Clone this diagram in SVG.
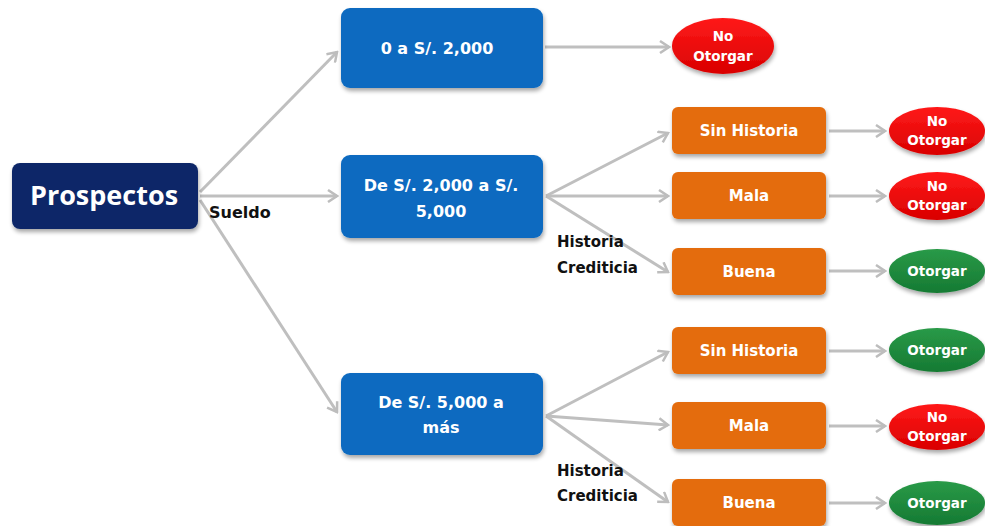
<svg xmlns="http://www.w3.org/2000/svg" width="985" height="526" viewBox="0 0 985 526">
<defs>
<filter id="sh" x="-20%" y="-20%" width="140%" height="150%">
<feGaussianBlur in="SourceAlpha" stdDeviation="2"/>
<feOffset dx="1" dy="3" result="b"/>
<feComponentTransfer><feFuncA type="linear" slope="0.35"/></feComponentTransfer>
<feMerge><feMergeNode/><feMergeNode in="SourceGraphic"/></feMerge>
</filter>
<linearGradient id="gRed" x1="0" y1="0" x2="0" y2="1"><stop offset="0" stop-color="#ff1a1a"/><stop offset="1" stop-color="#d90000"/></linearGradient>
<linearGradient id="gGreen" x1="0" y1="0" x2="0" y2="1"><stop offset="0" stop-color="#2a9a48"/><stop offset="1" stop-color="#157a33"/></linearGradient>
<marker id="ah" markerWidth="12" markerHeight="14" refX="10" refY="7" orient="auto" markerUnits="userSpaceOnUse">
<path d="M1,1 L10,7 L1,13" fill="none" stroke="#bdbdbd" stroke-width="2.5"/>
</marker>
<style>
.nav{fill:#0c2868;}
.blue{fill:#0b6ac0;}
.org{fill:#e46c0a;}
.red{fill:url(#gRed);}
.grn{fill:url(#gGreen);}
.t{font-family:"DejaVu Sans","Noto Sans",sans-serif;font-weight:bold;fill:#ffffff;text-anchor:middle;}
.tp{font-family:"Open Sans","Noto Sans",sans-serif;font-size:27px;}
.tb{font-size:16px;}
.to{font-size:15px;}
.te{font-size:13.5px;}
.lbl{font-family:"DejaVu Sans","Noto Sans",sans-serif;font-weight:bold;fill:#111111;font-size:15px;}
.c line{stroke:#bfbfbf;stroke-width:3;marker-end:url(#ah);}
</style>
</defs>
<rect width="985" height="526" fill="#ffffff"/>
<g id="connectors" class="c">
<line x1="200" y1="192" x2="337" y2="52"/>
<line x1="200" y1="196" x2="337" y2="196"/>
<line x1="200" y1="200" x2="337" y2="412"/>
<line x1="545" y1="47" x2="669" y2="47"/>
<line x1="546" y1="196" x2="668" y2="133"/>
<line x1="546" y1="196" x2="668" y2="196"/>
<line x1="546" y1="196" x2="668" y2="272"/>
<line x1="546" y1="416" x2="668" y2="352"/>
<line x1="546" y1="416" x2="668" y2="425"/>
<line x1="546" y1="416" x2="668" y2="502"/>
<line x1="829" y1="131" x2="885" y2="131"/>
<line x1="829" y1="196" x2="885" y2="196"/>
<line x1="829" y1="271" x2="885" y2="271"/>
<line x1="829" y1="351" x2="885" y2="351"/>
<line x1="829" y1="426" x2="885" y2="426"/>
<line x1="829" y1="503" x2="885" y2="503"/>
</g>
<g id="prospectos"><rect class="nav" x="12" y="163" width="186" height="66" rx="8" filter="url(#sh)"/><text class="t tp" x="104" y="205">Prospectos</text></g>
<g id="label-sueldo"><text class="lbl" x="209" y="218" style="font-size:16px">Sueldo</text></g>
<g id="s1"><rect class="blue" x="341" y="8" width="202" height="80" rx="9" filter="url(#sh)"/><text class="t tb" x="437" y="54">0 a S/. 2,000</text></g>
<g id="s2"><rect class="blue" x="341" y="155" width="202" height="83" rx="9" filter="url(#sh)"/><text class="t tb" x="441" y="191">De S/. 2,000 a S/.</text><text class="t tb" x="441" y="217">5,000</text></g>
<g id="s3"><rect class="blue" x="341" y="373" width="202" height="82" rx="9" filter="url(#sh)"/><text class="t tb" x="441" y="408">De S/. 5,000 a</text><text class="t tb" x="441" y="433">más</text></g>
<g id="r0"><ellipse class="red" cx="723" cy="46" rx="51" ry="28" filter="url(#sh)"/><text class="t te" x="723" y="41">No</text><text class="t te" x="723" y="61">Otorgar</text></g>
<g id="label-hc1"><text class="lbl" x="557" y="247">Historia</text><text class="lbl" x="557" y="273">Crediticia</text></g>
<g id="label-hc2"><text class="lbl" x="557" y="476">Historia</text><text class="lbl" x="557" y="501">Crediticia</text></g>
<g id="h1"><rect class="org" x="672" y="107" width="154" height="47" rx="6" filter="url(#sh)"/><text class="t to" x="749" y="136">Sin Historia</text></g>
<g id="h2"><rect class="org" x="672" y="172" width="154" height="47" rx="6" filter="url(#sh)"/><text class="t to" x="749" y="201">Mala</text></g>
<g id="h3"><rect class="org" x="672" y="248" width="154" height="47" rx="6" filter="url(#sh)"/><text class="t to" x="749" y="277">Buena</text></g>
<g id="h4"><rect class="org" x="672" y="327" width="154" height="47" rx="6" filter="url(#sh)"/><text class="t to" x="749" y="356">Sin Historia</text></g>
<g id="h5"><rect class="org" x="672" y="402" width="154" height="47" rx="6" filter="url(#sh)"/><text class="t to" x="749" y="431">Mala</text></g>
<g id="h6"><rect class="org" x="672" y="479" width="154" height="47" rx="6" filter="url(#sh)"/><text class="t to" x="749" y="508">Buena</text></g>
<g id="o1"><ellipse class="red" cx="937" cy="131" rx="48" ry="24" filter="url(#sh)"/><text class="t te" x="937" y="126">No</text><text class="t te" x="937" y="145">Otorgar</text></g>
<g id="o2"><ellipse class="red" cx="937" cy="196" rx="48" ry="24" filter="url(#sh)"/><text class="t te" x="937" y="191">No</text><text class="t te" x="937" y="210">Otorgar</text></g>
<g id="o3"><ellipse class="grn" cx="937" cy="271" rx="48" ry="22" filter="url(#sh)"/><text class="t te" x="937" y="276">Otorgar</text></g>
<g id="o4"><ellipse class="grn" cx="937" cy="350" rx="48" ry="22" filter="url(#sh)"/><text class="t te" x="937" y="355">Otorgar</text></g>
<g id="o5"><ellipse class="red" cx="937" cy="427" rx="48" ry="23" filter="url(#sh)"/><text class="t te" x="937" y="422">No</text><text class="t te" x="937" y="441">Otorgar</text></g>
<g id="o6"><ellipse class="grn" cx="937" cy="503" rx="48" ry="22" filter="url(#sh)"/><text class="t te" x="937" y="508">Otorgar</text></g>
</svg>
